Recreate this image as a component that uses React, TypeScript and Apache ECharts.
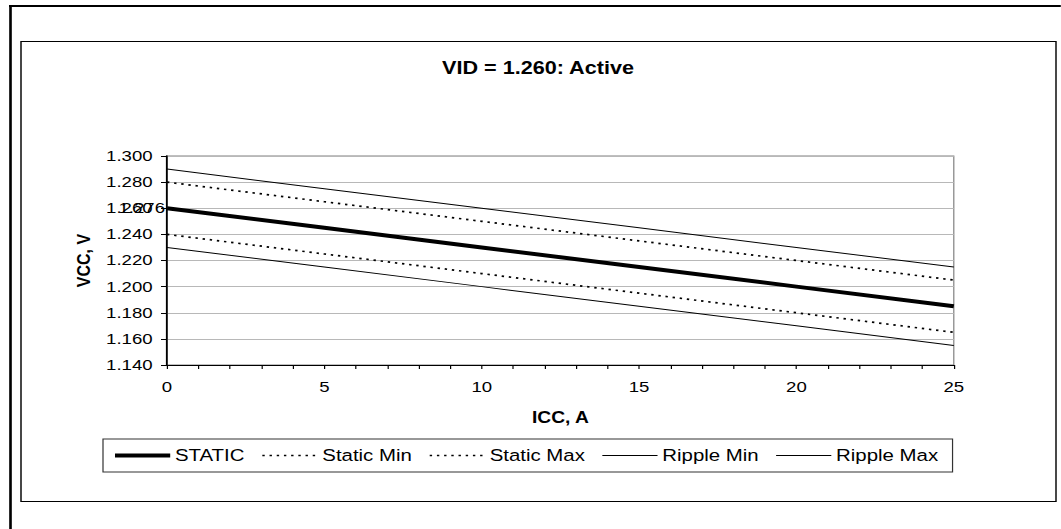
import React, { useEffect, useRef } from "react";
import * as echarts from "echarts";

const TITLE = "VID = 1.260: Active";
const X_NAME = "ICC, A";
const Y_NAME = "VCC, V";
const ICC = [0, 5, 10, 15, 20, 25];
const STATIC = [1.26, 1.245, 1.23, 1.215, 1.2, 1.185];
const STATIC_MIN = [1.24, 1.225, 1.21, 1.195, 1.18, 1.165];
const STATIC_MAX = [1.28, 1.265, 1.25, 1.235, 1.22, 1.205];
const RIPPLE_MIN = [1.23, 1.215, 1.2, 1.185, 1.17, 1.155];
const RIPPLE_MAX = [1.29, 1.275, 1.26, 1.245, 1.23, 1.215];
const STRAY_LABEL = "1.276";

const S = 1.2; // horizontal stretch of the original picture
const W = 1061 / S;
const H = 529;
const FONT = "'Liberation Sans', Arial, sans-serif";

const pairs = (ys: number[]) => ICC.map((x, i) => [x, ys[i]]);

export default function App() {
  const ref = useRef<HTMLDivElement>(null);
  useEffect(() => {
    if (!ref.current) return;
    const chart = echarts.init(ref.current, undefined, { renderer: "svg" });
    const dotted = { width: 1.7, type: [2, 4] as any, color: "#000" };
    chart.setOption({
      animation: false,
      backgroundColor: "#fff",
      textStyle: { fontFamily: FONT, color: "#000" },
      title: {
        text: TITLE,
        left: 538 / S,
        top: 59,
        textAlign: "center",
        padding: 0,
        textStyle: { fontFamily: FONT, fontSize: 18, fontWeight: "bold", color: "#000" },
      },
      legend: {
        left: 103 / S,
        top: 439,
        padding: [8, 12, 8, 8],
        itemWidth: 46,
        itemHeight: 14,
        itemGap: 14,
        borderColor: "#333",
        borderWidth: 1,
        itemStyle: { opacity: 0 },
        lineStyle: { width: "inherit" },
        textStyle: { fontFamily: FONT, fontSize: 17, color: "#000", padding: [0, 0, 0, -1] },
        data: ["STATIC", "Static Min", "Static Max", "Ripple Min", "Ripple Max"],
      },
      grid: {
        left: 167 / S,
        right: (1061 - 954) / S,
        top: 156,
        bottom: 529 - 365,
        show: true,
        borderColor: "#808080",
        borderWidth: 1,
      },
      xAxis: {
        type: "value",
        min: 0,
        max: 25,
        interval: 5,
        name: X_NAME,
        nameLocation: "middle",
        nameMoveOverlap: false,
        nameGap: 45,
        nameTextStyle: { fontFamily: FONT, fontSize: 16, fontWeight: "bold", color: "#000" },
        axisLine: { lineStyle: { color: "#000", width: 1 } },
        axisTick: { show: true, length: 4, lineStyle: { color: "#000" } },
        minorTick: { show: true, splitNumber: 5, length: 4, lineStyle: { color: "#000" } },
        splitLine: { show: false },
        axisLabel: { fontFamily: FONT, fontSize: 15.5, color: "#000", margin: 14 },
      },
      yAxis: {
        type: "value",
        min: 1.14,
        max: 1.3,
        interval: 0.02,
        name: Y_NAME,
        nameLocation: "middle",
        nameGap: 36,
        nameTextStyle: { fontFamily: FONT, fontSize: 16, fontWeight: "bold", color: "#000" },
        axisLine: { show: true, lineStyle: { color: "#000", width: 1.5 } },
        axisTick: { show: true, length: 5, lineStyle: { color: "#000" } },
        splitLine: { show: true, lineStyle: { color: "#b8b8b8", width: 1 } },
        axisLabel: {
          fontFamily: FONT,
          fontSize: 15.5,
          color: "#000",
          margin: 12,
          formatter: (v: number) => v.toFixed(3),
        },
      },
      series: [
        { name: "STATIC", type: "line", symbol: "none", data: pairs(STATIC), lineStyle: { width: 4, color: "#000" }, itemStyle: { color: "#000" }, z: 5 },
        { name: "Static Min", type: "line", symbol: "none", data: pairs(STATIC_MIN), lineStyle: dotted, itemStyle: { color: "#000" } },
        { name: "Static Max", type: "line", symbol: "none", data: pairs(STATIC_MAX), lineStyle: dotted, itemStyle: { color: "#000" } },
        { name: "Ripple Min", type: "line", symbol: "none", data: pairs(RIPPLE_MIN), lineStyle: { width: 1, color: "#000" }, itemStyle: { color: "#000" } },
        { name: "Ripple Max", type: "line", symbol: "none", data: pairs(RIPPLE_MAX), lineStyle: { width: 1, color: "#000" }, itemStyle: { color: "#000" } },
      ],
      graphic: [
        {
          type: "rect",
          shape: { x: 21 / S, y: 41.5, width: (1056 - 21) / S, height: 460 },
          style: { fill: "none", stroke: "#000", lineWidth: 1.2 },
          silent: true,
          z: -1,
        },
        {
          type: "line",
          shape: { x1: 9 / S, y1: 6, x2: W + 5, y2: 6 },
          style: { stroke: "#000", lineWidth: 2 },
          silent: true,
        },
        {
          type: "line",
          shape: { x1: 10.5 / S, y1: 5, x2: 10.5 / S, y2: H + 5 },
          style: { stroke: "#000", lineWidth: 2.2 },
          silent: true,
        },
        {
          type: "text",
          x: 165 / S,
          y: 208,
          style: {
            text: STRAY_LABEL,
            align: "right",
            verticalAlign: "middle",
            fontFamily: FONT,
            fontSize: 15.5,
            fill: "#000",
          },
          silent: true,
        },
      ],
    });
    return () => chart.dispose();
  }, []);

  return (
    <div style={{ position: "absolute", left: 0, top: 0, width: 1061, height: 529, overflow: "hidden", background: "#fff" }}>
      <div
        ref={ref}
        style={{ width: W, height: H, transform: `scaleX(${S})`, transformOrigin: "0 0" }}
      />
    </div>
  );
}
